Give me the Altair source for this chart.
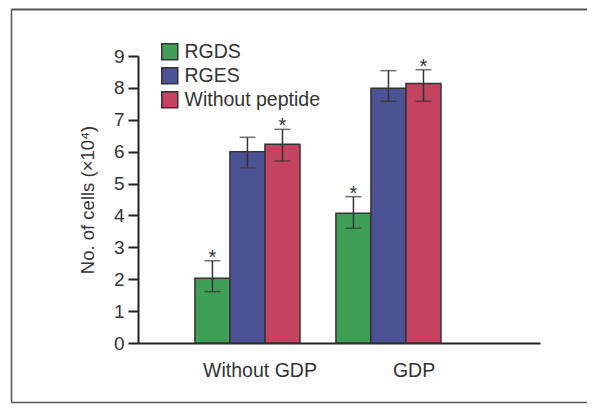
import altair as alt
import pandas as pd

groups = ["Without GDP", "GDP"]
treatments = ["RGDS", "RGES", "Without peptide"]
colors = ["#3f9f57", "#4d5295", "#c34360"]

means_without = [2.03, 6.00, 6.23]
means_gdp = [4.07, 7.99, 8.14]
upper_without = [2.58, 6.45, 6.70]
lower_without = [1.61, 5.49, 5.71]
upper_gdp = [4.59, 8.54, 8.57]
lower_gdp = [3.60, 7.58, 7.58]
stars_without = ["*", "", "*"]
stars_gdp = ["*", "", "*"]

df = pd.DataFrame({
    "group": [groups[0]] * 3 + [groups[1]] * 3,
    "treatment": treatments * 2,
    "mean": means_without + means_gdp,
    "upper": upper_without + upper_gdp,
    "lower": lower_without + lower_gdp,
    "star": stars_without + stars_gdp,
})
labels_df = pd.DataFrame({"group": groups})

FONT = "Liberation Sans"
TXT = "#333333"

x_bar = alt.X("group:N", sort=groups,
              scale=alt.Scale(type="band", domain=groups, paddingInner=0.255,
                              paddingOuter=0.553, align=0.365),
              axis=None)
x_off = alt.XOffset("treatment:N", sort=treatments,
                    scale=alt.Scale(domain=treatments, paddingInner=0, paddingOuter=0))
y_axis = alt.Axis(title="No. of cells (×10⁴)", values=list(range(10)), grid=False,
                  domainColor="#222222", domainWidth=2, tickColor="#222222",
                  tickWidth=2, tickSize=10, labelFontSize=19, labelColor=TXT,
                  labelPadding=4, titleFontSize=18.5, titleFontWeight="normal",
                  titleColor=TXT, titlePadding=16)
y_scale = alt.Scale(domain=[0, 9], nice=False, zero=True)

base = alt.Chart(df)

bars = base.mark_bar(stroke="#333333", strokeWidth=1.5).encode(
    x=x_bar, xOffset=x_off,
    y=alt.Y("mean:Q", scale=y_scale, axis=y_axis),
    color=alt.Color("treatment:N", sort=treatments,
                    scale=alt.Scale(domain=treatments, range=colors),
                    legend=alt.Legend(title=None, orient="none", legendX=22, legendY=-14,
                                      symbolType="square", symbolSize=256,
                                      symbolStrokeColor="#333333", symbolStrokeWidth=1.5,
                                      labelFontSize=19.5, labelColor=TXT, rowPadding=1,
                                      padding=0, labelOffset=5)),
)

err = base.mark_rule(color="#333333", strokeWidth=1.5).encode(
    x=x_bar, xOffset=x_off,
    y=alt.Y("lower:Q", scale=y_scale, axis=y_axis), y2="upper:Q",
)
cap_top = base.mark_tick(color="#333333", thickness=1.5, size=16, orient="horizontal").encode(
    x=x_bar, xOffset=x_off, y=alt.Y("upper:Q", scale=y_scale, axis=y_axis),
)
cap_bot = base.mark_tick(color="#333333", thickness=1.5, size=16, orient="horizontal").encode(
    x=x_bar, xOffset=x_off, y=alt.Y("lower:Q", scale=y_scale, axis=y_axis),
)
stars = base.mark_text(fontSize=20, color=TXT, baseline="alphabetic", dy=3, font=FONT).encode(
    x=x_bar, xOffset=x_off, y=alt.Y("upper:Q", scale=y_scale, axis=y_axis),
    text="star:N",
)

labels = alt.Chart(labels_df).mark_point(opacity=0).encode(
    x=alt.X("group:N", sort=groups,
            scale=alt.Scale(type="band", domain=groups, paddingInner=0,
                            paddingOuter=0.305, align=0.479),
            axis=alt.Axis(title=None, labelAngle=0, ticks=False, domainColor="#222222",
                          domainWidth=2, labelFontSize=19.5, labelColor=TXT, labelPadding=18)),
)

one = pd.DataFrame({"k": [0]})
frame_top = alt.Chart(one).mark_rule(color="#555555", strokeWidth=2).encode(
    x=alt.value(-126.5), x2=alt.value(449), y=alt.value(-46.5))
frame_left = alt.Chart(one).mark_rule(color="#555555", strokeWidth=1.5).encode(
    x=alt.value(-126.5), y=alt.value(-46.5), y2=alt.value(346.5))
frame_bottom = alt.Chart(one).mark_rule(color="#555555", strokeWidth=1.5).encode(
    x=alt.value(-126.5), x2=alt.value(449), y=alt.value(346.5))

chart = alt.layer(bars, err, cap_top, cap_bot, stars, labels,
                  frame_top, frame_left, frame_bottom).resolve_scale(
    x="independent"
).properties(
    width=402, height=287,
    padding={"left": 130, "top": 48, "right": 47, "bottom": 61},
    autosize=alt.AutoSizeParams(type="none"),
).configure(font=FONT).configure_view(stroke="transparent")

chart.save("out.html", embed_options={"renderer": "svg", "actions": False})
